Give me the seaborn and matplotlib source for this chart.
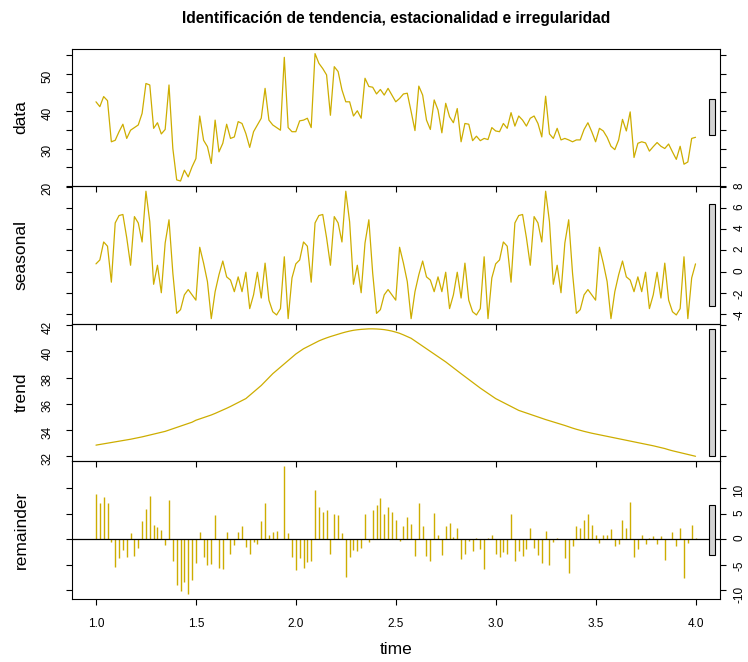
import numpy as np
import pandas as pd
import matplotlib
matplotlib.use("Agg")
import matplotlib.pyplot as plt
from matplotlib.patches import Rectangle
from matplotlib.ticker import FixedLocator
import seaborn as sns

# Weekly series (52 observations per unit of time), t = 1.0 ... 4.0
FREQ = 52
START = 1.0

data_values = [
    42.5, 41.2, 43.9, 42.8, 31.8, 32.2, 34.5, 36.5, 32.7, 34.9, 35.6, 36.3, 39.4,
    47.4, 47.0, 35.4, 36.9, 33.9, 35.1, 47.0, 30.0, 21.6, 21.3, 24.2, 22.4, 25.1,
    27.3, 38.7, 32.2, 30.5, 26.0, 37.6, 29.1, 31.4, 36.5, 32.7, 33.1, 37.2, 36.7,
    34.0, 30.3, 34.5, 36.3, 38.1, 46.1, 37.6, 36.3, 35.6, 34.9, 54.4, 35.6, 34.5,
    34.5, 37.4, 37.6, 38.1, 35.6, 55.4, 52.8, 51.4, 49.7, 38.9, 51.9, 50.6, 45.7,
    42.5, 42.5, 38.7, 40.1, 38.1, 48.8, 46.6, 46.4, 44.6, 45.8, 44.3, 46.1, 44.3,
    42.5, 43.4, 44.6, 44.8, 39.9, 34.8, 46.7, 44.3, 37.6, 35.1, 43.0, 40.3, 34.2,
    42.1, 38.5, 36.9, 40.7, 31.8, 36.7, 36.5, 32.1, 33.3, 32.1, 32.7, 32.4, 35.6,
    34.7, 34.5, 36.7, 35.4, 39.6, 36.0, 38.7, 37.6, 36.0, 38.1, 38.7, 36.7, 33.1,
    44.0, 33.9, 32.7, 35.4, 32.3, 32.7, 32.3, 31.8, 32.3, 32.3, 35.1, 36.9, 34.5,
    31.8, 35.4, 34.7, 33.0, 30.6, 29.7, 32.3, 37.8, 34.7, 39.8, 27.6, 31.4, 31.8,
    31.5, 29.3, 30.5, 31.6, 30.6, 30.0, 31.2, 29.1, 27.1, 30.6, 25.8, 26.4, 32.7, 33.0,
]

# One full cycle of the (periodic) seasonal component
seasonal_cycle = [
    0.73, 1.1, 2.8, 2.4, -1.0, 4.6, 5.3, 5.4, 3.2, 0.6, 5.2, 4.6, 2.8,
    7.6, 4.7, -1.2, 0.6, -2.0, 2.7, 4.9, -0.15, -3.95, -3.6, -2.2, -1.7, -2.2,
    -2.7, 2.3, 0.8, -0.95, -4.45, -1.9, -0.3, 1.0, -0.5, -0.8, -1.9, -0.5, -1.9,
    -0.06, -3.5, -2.2, -0.06, -2.5, 0.8, -2.7, -3.8, -4.1, -3.5, 1.4, -4.45, -0.6,
]

trend_values = [
    32.85, 32.90, 32.95, 33.00, 33.05, 33.10, 33.15, 33.20, 33.25, 33.30, 33.36, 33.42, 33.48,
    33.55, 33.62, 33.69, 33.76, 33.83, 33.90, 34.00, 34.10, 34.20, 34.30, 34.40, 34.50, 34.60,
    34.75, 34.85, 34.95, 35.05, 35.15, 35.27, 35.40, 35.53, 35.66, 35.80, 35.95, 36.10, 36.25,
    36.40, 36.65, 36.90, 37.15, 37.40, 37.70, 38.00, 38.30, 38.55, 38.80, 39.05, 39.30, 39.55,
    39.80, 40.00, 40.20, 40.35, 40.50, 40.65, 40.80, 40.92, 41.03, 41.13, 41.22, 41.31, 41.40,
    41.48, 41.55, 41.61, 41.65, 41.68, 41.70, 41.72, 41.72, 41.71, 41.69, 41.66, 41.61, 41.55,
    41.47, 41.38, 41.26, 41.13, 41.00, 40.80, 40.60, 40.40, 40.20, 40.00, 39.80, 39.60, 39.40,
    39.20, 38.98, 38.75, 38.52, 38.30, 38.08, 37.86, 37.64, 37.42, 37.20, 37.00, 36.80, 36.60,
    36.40, 36.25, 36.10, 35.95, 35.80, 35.65, 35.50, 35.40, 35.30, 35.20, 35.10, 35.00, 34.90,
    34.80, 34.71, 34.62, 34.53, 34.44, 34.35, 34.25, 34.15, 34.06, 33.98, 33.90, 33.83, 33.76,
    33.70, 33.64, 33.58, 33.52, 33.46, 33.40, 33.34, 33.28, 33.22, 33.16, 33.10, 33.04, 32.98,
    32.92, 32.86, 32.80, 32.73, 32.66, 32.59, 32.50, 32.42, 32.35, 32.28, 32.21, 32.14, 32.07,
    32.00,
]

remainder_values = [
    8.9, 7.1, 8.2, 7.1, -0.65, -5.4, -3.7, -2.2, -3.5, 1.2, -3.2, -1.8, 3.6,
    5.8, 8.5, 2.8, 2.3, 1.8, -1.2, 7.6, -4.3, -8.9, -10.2, -8.4, -10.7, -7.9,
    -4.7, 1.35, -3.5, -5.0, -4.8, 4.7, -5.6, -5.8, 1.35, -2.9, -1.2, 1.35, 2.5,
    -1.6, -2.9, -0.5, -1.0, 3.6, 7.1, 0.8, 1.35, 1.6, 0.1, 14.2, 1.2, -3.4,
    -6.1, -3.7, -5.6, -4.4, -4.2, 9.7, 6.2, 5.4, 5.6, -3.0, 5.0, 4.7, 1.2,
    -7.3, -3.5, -2.1, -2.4, -1.8, 4.9, -0.5, 5.6, 6.7, 8.0, 4.9, 6.2, 5.4,
    3.8, -0.3, 2.6, 4.4, 3.0, -3.2, 7.1, 2.5, -3.2, -4.3, 5.1, 0.8, -3.1,
    2.6, 3.1, 0.4, 2.1, -3.9, -2.9, -0.3, -2.4, 0.2, -2.0, -5.8, 0.2, 0.8,
    -2.9, -3.5, -2.6, -2.9, 4.9, -4.3, -2.4, -3.2, -2.0, 2.1, -1.8, -3.1, -4.7,
    1.6, -5.0, -0.5, 0.2, 0.0, -3.7, -6.7, -1.3, 2.5, 2.1, 3.8, 4.9, 2.7,
    0.8, -0.8, 0.8, 0.8, 2.0, -1.3, -1.0, 3.8, 2.1, 7.3, -3.5, -2.0, 0.8,
    -1.0, 0.2, 0.6, -1.0, 0.6, -4.0, 0.0, 1.4, -1.3, 2.1, -7.6, -0.8, 2.7, 0.2,
]

panel_names = ["data", "seasonal", "trend", "remainder"]
title_text = "Identificación de tendencia, estacionalidad e irregularidad"
time_label = "time"
time_ticks = [1.0, 1.5, 2.0, 2.5, 3.0, 3.5, 4.0]
time_tick_labels = ["1.0", "1.5", "2.0", "2.5", "3.0", "3.5", "4.0"]
data_ticks = [20, 25, 30, 35, 40, 45, 50, 55]
data_tick_labels = ["20", "", "30", "", "40", "", "50", ""]
seasonal_ticks = [-4, -2, 0, 2, 4, 6, 8]
trend_ticks = [32, 34, 36, 38, 40, 42]
remainder_ticks = [-10, -5, 0, 5, 10]

n = len(data_values)
time = START + np.arange(n) / FREQ
seasonal_values = np.tile(seasonal_cycle, n // FREQ + 1)[:n]

df = pd.DataFrame({
    "time": time,
    "data": data_values,
    "seasonal": seasonal_values,
    "trend": trend_values,
    "remainder": remainder_values,
})

ticks_for = {
    "data": (data_ticks, data_tick_labels),
    "seasonal": (seasonal_ticks, [str(v) for v in seasonal_ticks]),
    "trend": (trend_ticks, [str(v) for v in trend_ticks]),
    "remainder": (remainder_ticks, [str(v) for v in remainder_ticks]),
}

sns.set_theme(style="white")
plt.rcParams["font.family"] = ["Liberation Sans", "DejaVu Sans"]

LINE_COLOR = "#CDAD00"
BAR_COLOR = "#D3D3D3"
W, H = 748, 662
fig = plt.figure(figsize=(W / 100, H / 100), dpi=100)

left, right = 72 / W, 719.5 / W
top, bottom = 1 - 48.5 / H, 1 - 599 / H
ph = (top - bottom) / len(panel_names)

span = time[-1] - time[0]
xlo, xhi = time[0] - 0.04 * span, time[-1] + 0.04 * span
ranges = {c: (df[c].min(), df[c].max()) for c in panel_names}
bar_height = min(hi - lo for lo, hi in ranges.values())
dx = (xhi - xlo) / 64

for k, name in enumerate(panel_names):
    ax = fig.add_axes([left, top - (k + 1) * ph, right - left, ph])
    ax.set_facecolor("none")
    if name == "remainder":
        ax.vlines(df["time"], 0, df[name], color=LINE_COLOR, lw=1.0)
        ax.axhline(0, color="black", lw=0.9)
    else:
        sns.lineplot(data=df, x="time", y=name, ax=ax, color=LINE_COLOR,
                     lw=0.9, estimator=None, legend=False)

    lo, hi = ranges[name]
    pad = 0.04 * (hi - lo)
    ax.set_xlim(xlo, xhi)
    ax.set_ylim(lo - pad, hi + pad)

    # range bar: same height in data units on every panel
    mid = (lo + hi) / 2
    ax.add_patch(Rectangle((xhi - dx, mid - bar_height / 2), 0.6 * dx, bar_height,
                           facecolor=BAR_COLOR, edgecolor="black", lw=0.8,
                           clip_on=False, zorder=5))

    on_right = (k % 2 == 1)
    yt, yl = ticks_for[name]
    ax.yaxis.set_major_locator(FixedLocator(yt))
    ax.set_yticklabels(yl)
    ax.tick_params(axis="y", left=True, right=True, labelleft=not on_right,
                   labelright=on_right, direction="out", length=4, width=0.8,
                   labelsize=8.5, labelrotation=90, pad=6 if on_right else 9.5,
                   colors="black")
    ax.set_xticks(time_ticks)
    last = (k == len(panel_names) - 1)
    ax.set_xticklabels(time_tick_labels if last else [""] * len(time_ticks))
    ax.tick_params(axis="x", bottom=True, top=False, labelbottom=last,
                   direction="out", length=4, width=0.8, labelsize=8.5,
                   pad=10, colors="black")
    ax.set_xlabel("")
    ax.set_ylabel("")
    for sp in ax.spines.values():
        sp.set_color("black")
        sp.set_linewidth(0.8)
    ax.grid(False)

    yc = top - (k + 0.5) * ph
    fig.text(21 / W, yc, name, rotation=90, ha="center", va="center",
             fontsize=12.5, color="black")

fig.text((left + right) / 2, 1 - 18 / H, title_text, ha="center", va="center",
         fontsize=11.2, fontweight="bold", color="black")
fig.text((left + right) / 2, 1 - 649 / H, time_label, ha="center", va="center",
         fontsize=12.5, color="black")

fig.savefig("out.png", dpi=100, facecolor="white")
